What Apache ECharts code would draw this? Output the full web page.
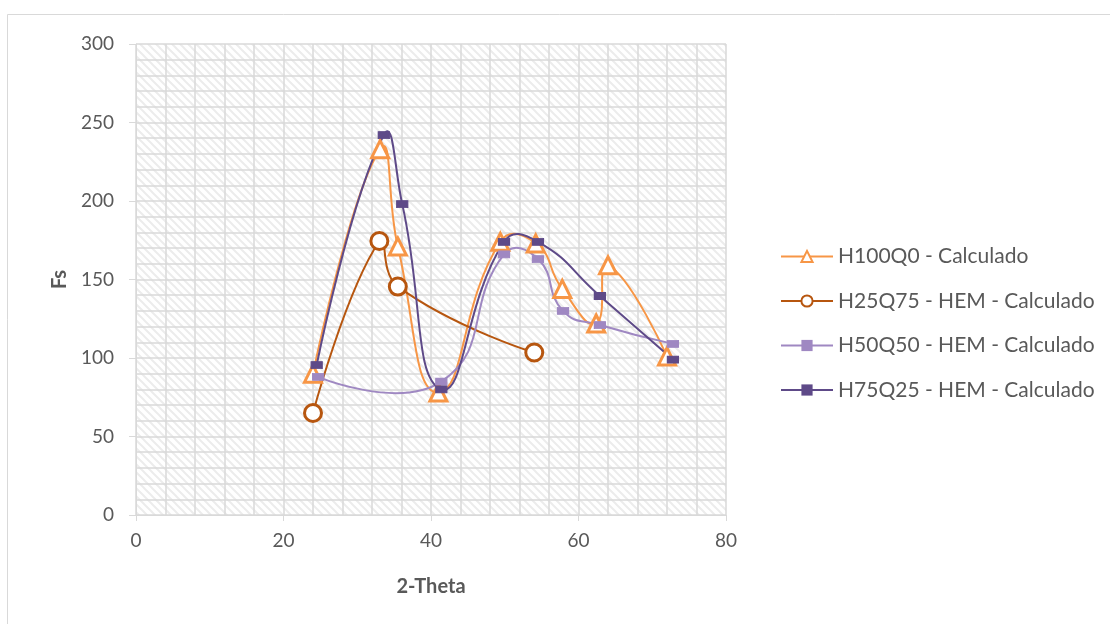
<!DOCTYPE html>
<html>
<head>
<meta charset="utf-8">
<script src="https://cdn.jsdelivr.net/npm/echarts@6/dist/echarts.min.js"></script>
<style>
  html, body { margin: 0; padding: 0; background: #fff; }
  #chart { width: 1110px; height: 624px; }
</style>
</head>
<body>
<div id="chart"></div>
<script>
// Series data: 2-Theta positions and Fs values
const seriesNames = [
  'H100Q0 - Calculado',
  'H25Q75 - HEM - Calculado',
  'H50Q50 - HEM - Calculado',
  'H75Q25 - HEM - Calculado'
];
const h100Theta = [24.0, 33.1, 35.5, 41.0, 49.4, 54.2, 57.8, 62.4, 64.0, 72.0];
const h100Fs    = [90, 233, 171, 78, 174, 173, 144, 122, 159, 101];
const h25Theta  = [24.0, 33.0, 35.5, 54.0];
const h25Fs     = [65, 174.5, 145.5, 103.5];
const h50Theta  = [24.7, 41.4, 49.9, 54.5, 57.9, 62.9, 72.8];
const h50Fs     = [88, 85, 166, 163, 130, 121, 109];
const h75Theta  = [24.5, 33.6, 36.1, 41.4, 49.9, 54.5, 62.9, 72.8];
const h75Fs     = [95.5, 242, 198, 80, 174, 174, 139.5, 99];

const xTicks = [0, 20, 40, 60, 80];
const yTicks = [0, 50, 100, 150, 200, 250, 300];

const colors = ['#F79646', '#B7560F', '#9F88C2', '#5E4A88'];

function pairs(xs, ys) { return xs.map((x, i) => [x, ys[i]]); }

// Diagonal hatch fill for the plot area
function hatchPattern() {
  const c = document.createElement('canvas');
  c.width = 8; c.height = 8;
  const g = c.getContext('2d');
  g.fillStyle = '#ffffff';
  g.fillRect(0, 0, 8, 8);
  g.strokeStyle = '#ececec';
  g.lineWidth = 2;
  g.beginPath();
  g.moveTo(-2, -2); g.lineTo(10, 10);
  g.moveTo(-10, -2); g.lineTo(2, 10);
  g.moveTo(6, -2); g.lineTo(18, 10);
  g.stroke();
  return c;
}

const FONT = 'Lato, "Open Sans", sans-serif';
const TXT = '#595959';
const GRIDC = '#d9d9d9';
const SMOOTH = 0.5;

// Smoothed connector drawn segment by segment; control points follow the
// neighbouring points, weighted by segment length (no clamping, so peaks may bulge)
function curveSeries(name, data, color) {
  return {
    name: name + ' (curva)',
    type: 'custom',
    data: data,
    encode: { x: 0, y: 1 },
    clip: true,
    silent: true,
    z: 2,
    renderItem: function (params, api) {
      const i = params.dataIndex;
      const n = data.length;
      if (i >= n - 1) return null;
      const P = (k) => api.coord(data[k]);
      const dist = (a, b) => Math.hypot(b[0] - a[0], b[1] - a[1]);
      // outgoing control point of point k
      function outCp(k) {
        const c = P(k);
        if (k === 0) return c;
        const a = P(k - 1), b = P(k + 1);
        const dp = dist(a, c), dn = dist(c, b);
        const r = dn / (dp + dn || 1);
        return [c[0] + (b[0] - a[0]) * SMOOTH * r, c[1] + (b[1] - a[1]) * SMOOTH * r];
      }
      // incoming control point of point k
      function inCp(k) {
        const c = P(k);
        if (k === n - 1) return c;
        const a = P(k - 1), b = P(k + 1);
        const dp = dist(a, c), dn = dist(c, b);
        const r = dp / (dp + dn || 1);
        return [c[0] - (b[0] - a[0]) * SMOOTH * r, c[1] - (b[1] - a[1]) * SMOOTH * r];
      }
      const p1 = P(i), p2 = P(i + 1);
      const c1 = outCp(i), c2 = inCp(i + 1);
      return {
        type: 'bezierCurve',
        shape: {
          x1: p1[0], y1: p1[1],
          cpx1: c1[0], cpy1: c1[1],
          cpx2: c2[0], cpy2: c2[1],
          x2: p2[0], y2: p2[1]
        },
        style: { stroke: color, lineWidth: 2, fill: null }
      };
    }
  };
}

// Marker series (also provides the legend entry)
function markerSeries(name, data, color, symbol, size, itemStyle) {
  return {
    name: name,
    type: 'line',
    data: data,
    symbol: symbol,
    symbolSize: size,
    showAllSymbol: true,
    lineStyle: { width: 0, opacity: 0 },
    itemStyle: itemStyle || { color: color, borderColor: color },
    emphasis: { disabled: true },
    z: 3
  };
}

const chart = echarts.init(document.getElementById('chart'), null, { renderer: 'canvas' });

const d100 = pairs(h100Theta, h100Fs);
const d25 = pairs(h25Theta, h25Fs);
const d50 = pairs(h50Theta, h50Fs);
const d75 = pairs(h75Theta, h75Fs);

chart.setOption({
  animation: false,
  backgroundColor: '#ffffff',
  textStyle: { fontFamily: FONT },
  graphic: [{
    type: 'rect',
    shape: { x: 7.5, y: 14.5, width: 1120, height: 640 },
    style: { fill: 'none', stroke: '#d9d9d9', lineWidth: 1 },
    silent: true,
    z: -10
  }],
  grid: {
    left: 136, right: 384, top: 44, bottom: 109,
    show: true,
    backgroundColor: { image: hatchPattern(), repeat: 'repeat' },
    borderWidth: 0
  },
  legend: {
    orient: 'vertical',
    left: 780,
    top: 246,
    padding: 0,
    itemWidth: 52,
    itemHeight: 14,
    itemGap: 23.5,
    textStyle: { color: TXT, fontSize: 21, lineHeight: 20, fontFamily: FONT },
    data: seriesNames.map((n, i) => ({
      name: n,
      lineStyle: { width: 2, opacity: 1, color: colors[i] }
    }))
  },
  xAxis: {
    type: 'value',
    min: xTicks[0], max: xTicks[xTicks.length - 1], interval: 20,
    name: '2-Theta',
    nameLocation: 'middle',
    nameGap: 62,
    nameTextStyle: { color: TXT, fontSize: 20, fontWeight: 'bold', fontFamily: FONT },
    axisLine: { show: true, onZero: false, lineStyle: { color: GRIDC, width: 1 } },
    axisTick: { show: true, length: 6, lineStyle: { color: GRIDC } },
    axisLabel: { color: TXT, fontSize: 19, margin: 16, fontFamily: FONT },
    splitLine: { show: true, lineStyle: { color: GRIDC, width: 1.5 } },
    minorTick: { show: false, splitNumber: 5 },
    minorSplitLine: { show: true, lineStyle: { color: GRIDC, width: 1.5 } }
  },
  yAxis: {
    type: 'value',
    min: yTicks[0], max: yTicks[yTicks.length - 1], interval: 50,
    name: 'Fs',
    nameLocation: 'middle',
    nameGap: 63,
    nameRotate: 90,
    nameTextStyle: { color: TXT, fontSize: 20, fontWeight: 'bold', fontFamily: FONT },
    axisLine: { show: true, lineStyle: { color: GRIDC, width: 1 } },
    axisTick: { show: true, length: 7, lineStyle: { color: GRIDC } },
    axisLabel: { color: TXT, fontSize: 19, margin: 22, fontFamily: FONT },
    splitLine: { show: true, lineStyle: { color: GRIDC, width: 1.5 } },
    minorTick: { show: false, splitNumber: 5 },
    minorSplitLine: { show: true, lineStyle: { color: GRIDC, width: 1.5 } }
  },
  series: [
    curveSeries(seriesNames[0], d100, colors[0]),
    markerSeries(seriesNames[0], d100, colors[0], 'triangle', 17,
      { color: '#ffffff', borderColor: colors[0], borderWidth: 3 }),
    curveSeries(seriesNames[1], d25, colors[1]),
    markerSeries(seriesNames[1], d25, colors[1], 'circle', 17,
      { color: '#ffffff', borderColor: colors[1], borderWidth: 3 }),
    curveSeries(seriesNames[2], d50, colors[2]),
    markerSeries(seriesNames[2], d50, colors[2], 'rect', [11, 7]),
    curveSeries(seriesNames[3], d75, colors[3]),
    markerSeries(seriesNames[3], d75, colors[3], 'rect', [11, 7])
  ]
});
</script>
</body>
</html>
